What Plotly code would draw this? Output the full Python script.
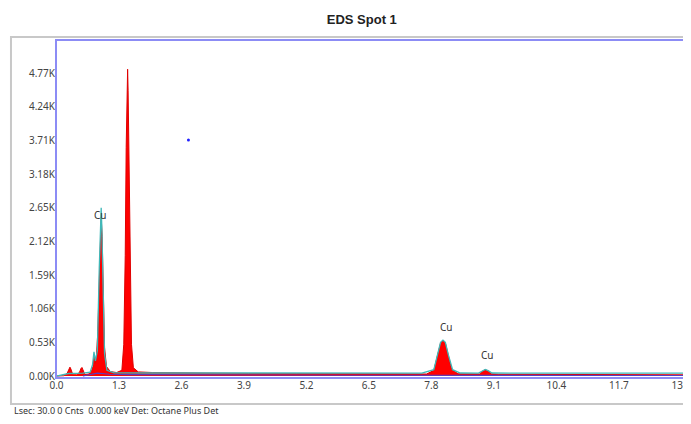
import plotly.graph_objects as go

# Measured spectrum (red filled)
energy_kev = [0.0, 0.15, 0.22, 0.26, 0.28, 0.30, 0.34, 0.42, 0.48, 0.51, 0.53, 0.55, 0.59, 0.66,
              0.72, 0.76, 0.78, 0.80, 0.83, 0.86, 0.89, 0.91, 0.93, 0.95, 0.97, 1.00, 1.04, 1.12,
              1.25, 1.36, 1.40, 1.43, 1.45, 1.47, 1.48, 1.49, 1.51, 1.53, 1.56, 1.60, 1.70, 2.0,
              3.0, 4.0, 5.0, 6.0, 7.0, 7.7, 7.85, 7.93, 7.99, 8.04, 8.09, 8.15, 8.22, 8.35, 8.6,
              8.80, 8.86, 8.92, 8.98, 9.05, 9.2, 10.0, 11.0, 12.0, 13.25]
counts = [0, 5, 40, 120, 140, 110, 20, 20, 60, 120, 135, 100, 25, 30,
          60, 150, 320, 200, 300, 700, 1600, 2200, 2500, 2200, 1400, 450, 150, 70,
          55, 90, 500, 1900, 3600, 4500, 4830, 4500, 3300, 1700, 500, 130, 65, 55,
          45, 40, 38, 35, 32, 32, 90, 330, 520, 560, 520, 330, 110, 35, 30,
          32, 75, 100, 80, 35, 28, 25, 22, 20, 18]

# Cu fit + background (teal outline)
fit_energy = [0.0, 0.25, 0.55, 0.70, 0.75, 0.78, 0.81, 0.85, 0.89, 0.915, 0.93, 0.945, 0.97, 1.0,
              1.05, 1.2, 2.0, 4.0, 7.6, 7.85, 7.93, 7.99, 8.04, 8.09, 8.15, 8.24, 8.4, 8.78, 8.86,
              8.92, 8.98, 9.06, 10.0, 13.25]
fit_counts = [0, 40, 45, 60, 180, 380, 240, 400, 1700, 2500, 2650, 2300, 1300, 350,
              90, 50, 48, 47, 47, 100, 340, 530, 565, 530, 340, 100, 48, 47, 80,
              105, 85, 48, 46, 45]

# Background (purple)
bg_energy = [0.55, 0.70, 0.85, 0.95, 1.10, 1.50, 3.0, 6.0, 13.25]
bg_counts = [0, 25, 45, 40, 28, 22, 18, 12, 8]

x_ticks = [0.0, 1.3, 2.6, 3.9, 5.2, 6.5, 7.8, 9.1, 10.4, 11.7, 13.0]
x_tick_text = ["0.0", "1.3", "2.6", "3.9", "5.2", "6.5", "7.8", "9.1", "10.4", "11.7", "13.0"]
y_ticks = [0, 530, 1060, 1590, 2120, 2650, 3180, 3710, 4240, 4770]
y_tick_text = ["0.00K", "0.53K", "1.06K", "1.59K", "2.12K", "2.65K", "3.18K", "3.71K", "4.24K", "4.77K"]

peak_labels = ["Cu", "Cu", "Cu"]
peak_label_x = [0.915, 8.11, 8.96]
peak_label_y = [2535, 770, 330]

marker_x = [2.745]
marker_y = [3715]

fig = go.Figure()
fig.add_trace(go.Scatter(x=energy_kev, y=counts, mode="lines", fill="tozeroy",
                         fillcolor="#ff0000", line=dict(color="#e00000", width=1),
                         hoverinfo="skip"))
fig.add_trace(go.Scatter(x=bg_energy, y=bg_counts, mode="lines",
                         line=dict(color="#5a3cc0", width=1.2), hoverinfo="skip"))
fig.add_trace(go.Scatter(x=fit_energy, y=fit_counts, mode="lines",
                         line=dict(color="#3fb8b8", width=1.3), hoverinfo="skip"))
fig.add_trace(go.Scatter(x=marker_x, y=marker_y, mode="markers",
                         marker=dict(color="#2020ff", size=3), hoverinfo="skip"))

for t, x, y in zip(peak_labels, peak_label_x, peak_label_y):
    fig.add_annotation(x=x, y=y, text=t, showarrow=False,
                       font=dict(family="Noto Sans", size=10, color="#333333"))

# Outer gray frame
fig.add_shape(type="rect", xref="paper", yref="paper", x0=-0.0709, x1=1.05, y0=-0.077, y1=1.009,
              line=dict(color="#c8c8c8", width=2), layer="below")
# Blue plot border
fig.add_shape(type="rect", xref="paper", yref="paper", x0=0, x1=1.02, y0=0, y1=1,
              line=dict(color="#8c8cf5", width=2))

fig.add_annotation(xref="paper", yref="paper", x=-0.069, y=-0.12, xanchor="left", yanchor="bottom",
                   text="Lsec: 30.0 0 Cnts  0.000 keV Det: Octane Plus Det", showarrow=False,
                   font=dict(family="Noto Sans", size=9, color="#333333"))

fig.update_layout(
    width=683, height=408,
    margin=dict(l=48, r=0, t=32, b=38, autoexpand=False),
    paper_bgcolor="white", plot_bgcolor="white",
    showlegend=False,
    title=dict(text="<b>EDS Spot 1</b>", x=0.518, xanchor="center", y=0.971, yanchor="middle",
               font=dict(family="Liberation Sans", size=13, color="#222222")),
    xaxis=dict(range=[-0.01, 13.2], tickvals=x_ticks, ticktext=x_tick_text, showgrid=False,
               zeroline=False, showline=False, ticks="", automargin=False,
               ticklabeloverflow="allow",
               tickfont=dict(family="Noto Sans", size=10, color="#444444")),
    yaxis=dict(range=[-31, 5290], tickvals=y_ticks, ticktext=y_tick_text, showgrid=False,
               zeroline=False, showline=False, ticks="", automargin=False,
               tickfont=dict(family="Noto Sans", size=10, color="#444444")),
)

fig.write_html("out.html")
